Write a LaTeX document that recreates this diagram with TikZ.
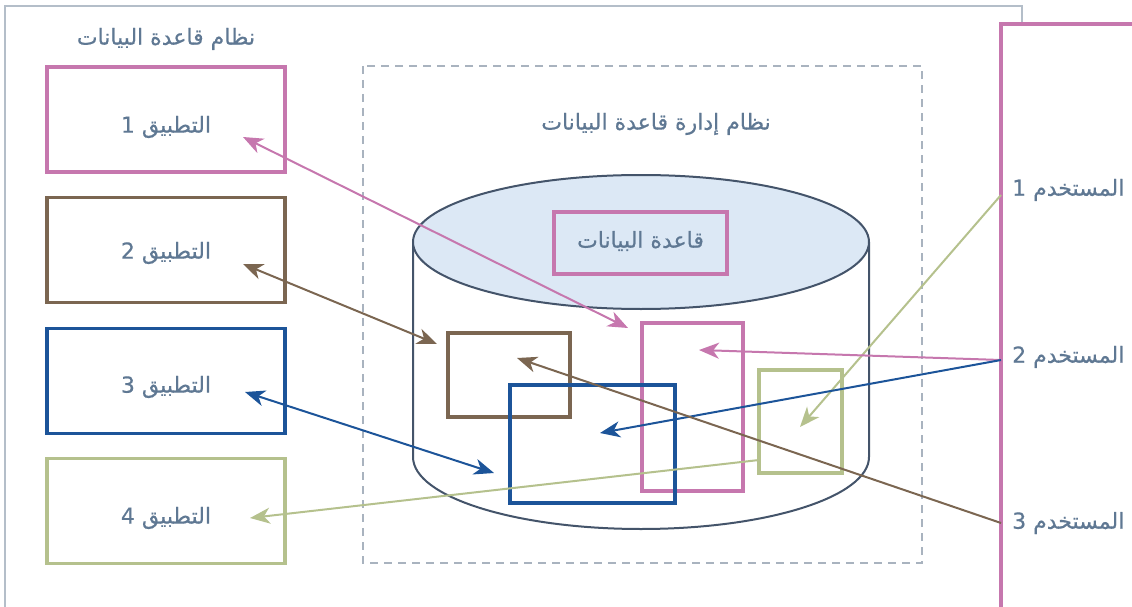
\documentclass[tikz,border=0pt]{standalone}
\usepackage{fontspec}
\newfontfamily\arabicfont[Script=Arabic,FakeBold=0.6]{DejaVu Sans}
\TeXXeTstate=1
\usetikzlibrary{arrows.meta}
\definecolor{framegray}{HTML}{B4BEC9}
\definecolor{dashgray}{HTML}{A9B3BF}
\definecolor{cpink}{HTML}{C677AE}
\definecolor{cbrown}{HTML}{7B6651}
\definecolor{cblue}{HTML}{1C5499}
\definecolor{cgreen}{HTML}{B5C18D}
\definecolor{cylstroke}{HTML}{44546A}
\definecolor{cylfill}{HTML}{DCE8F5}
\definecolor{txt}{HTML}{5F7893}
\tikzset{
  lbl/.style={text=txt, inner sep=0pt, font=\arabicfont\fontsize{22}{26}\selectfont},
  appbox/.style={draw, line width=3.5pt, minimum width=238pt, minimum height=105pt, inner sep=0pt},
  inbox/.style={draw, line width=3.5pt, inner sep=0pt},
  conn/.style={line width=2pt},
  tip/.style={-{Stealth[length=20pt,width=16pt,inset=6pt]}},
  tips/.style={{Stealth[length=20pt,width=16pt,inset=6pt]}-{Stealth[length=20pt,width=16pt,inset=6pt]}},
}
\begin{document}
\begin{tikzpicture}[x=1pt,y=-1pt]
\useasboundingbox (0,0) rectangle (1132,607);
\clip (0,0) rectangle (1132,607);
% outer frame
\draw[framegray, line width=2.2pt] (5,620) -- (5,6) -- (1022,6) -- (1022,24);
\node[lbl] (title) at (166,39) {\beginR نظام قاعدة البيانات\endR};
% apps
\node[appbox, cpink]  (app1) at (166,119.5) {};
\node[appbox, cbrown] (app2) at (166,250) {};
\node[appbox, cblue]  (app3) at (166,381) {};
\node[appbox, cgreen] (app4) at (166,511) {};
\node[lbl] (l1) at (166,127) {\beginR التطبيق 1\endR};
\node[lbl] (l2) at (166,253) {\beginR التطبيق 2\endR};
\node[lbl] (l3) at (166,387) {\beginR التطبيق 3\endR};
\node[lbl] (l4) at (166,518) {\beginR التطبيق 4\endR};
% dbms dashed box
\draw[dashgray, line width=1.6pt, dash pattern=on 8pt off 6pt] (363,66) rectangle (922,563);
\node[lbl] (dbms) at (656,124) {\beginR نظام إدارة قاعدة البيانات\endR};
% cylinder
\draw[cylstroke, line width=2pt, fill=white] (413,242) -- (413,457) arc[start angle=180, end angle=360, x radius=228pt, y radius=72pt] -- (869,242);
\draw[cylstroke, line width=2pt, fill=cylfill] (641,242) ellipse[x radius=228pt, y radius=67pt];
\node[inbox, cpink, minimum width=173pt, minimum height=62pt] (db) at (640.5,243) {};
\node[lbl] (dbl) at (640.5,241) {\beginR قاعدة البيانات\endR};
% inner views
\node[inbox, cbrown, minimum width=122pt, minimum height=84pt] (vbrown) at (509,375) {};
\node[inbox, cpink, minimum width=101pt, minimum height=168pt] (vpink) at (692.5,407) {};
\node[inbox, cgreen, minimum width=83pt, minimum height=103pt] (vgreen) at (800.5,421.5) {};
\node[inbox, cblue, minimum width=165pt, minimum height=118pt] (vblue) at (592.5,444) {};
% users
\draw[cpink, line width=3.5pt] (1001,620) -- (1001,24) -- (1140,24);
\node[lbl, anchor=west] (user1) at (1012,190) {\beginR المستخدم 1\endR};
\node[lbl, anchor=west] (user2) at (1012,357) {\beginR المستخدم 2\endR};
\node[lbl, anchor=west] (user3) at (1012,523) {\beginR المستخدم 3\endR};
\coordinate (u1) at (1001,195);
\coordinate (u2) at (1001,360);
\coordinate (u3) at (1001,523);
% arrow end points
\coordinate (a1) at (243,137);
\coordinate (b1) at (628,328);
\coordinate (a2) at (243,264);
\coordinate (b2) at (437,344);
\coordinate (a3) at (245,392);
\coordinate (b3) at (494,473);
\coordinate (a4) at (250,518);
\coordinate (g4) at (759,460);
\coordinate (tg) at (800,427);
\coordinate (tp) at (699,350);
\coordinate (tb) at (600,433);
\coordinate (tr) at (517,358);
% connectors
\draw[conn, cpink, tips] (a1) -- (b1);
\draw[conn, cbrown, tips] (a2) -- (b2);
\draw[conn, cblue, tips] (a3) -- (b3);
\draw[conn, cgreen, tip] (g4) -- (a4);
\draw[conn, cgreen, tip] (u1) -- (tg);
\draw[conn, cpink, tip] (u2) -- (tp);
\draw[conn, cblue, tip] (u2) -- (tb);
\draw[conn, cbrown, tip] (u3) -- (tr);
\end{tikzpicture}
\end{document}
